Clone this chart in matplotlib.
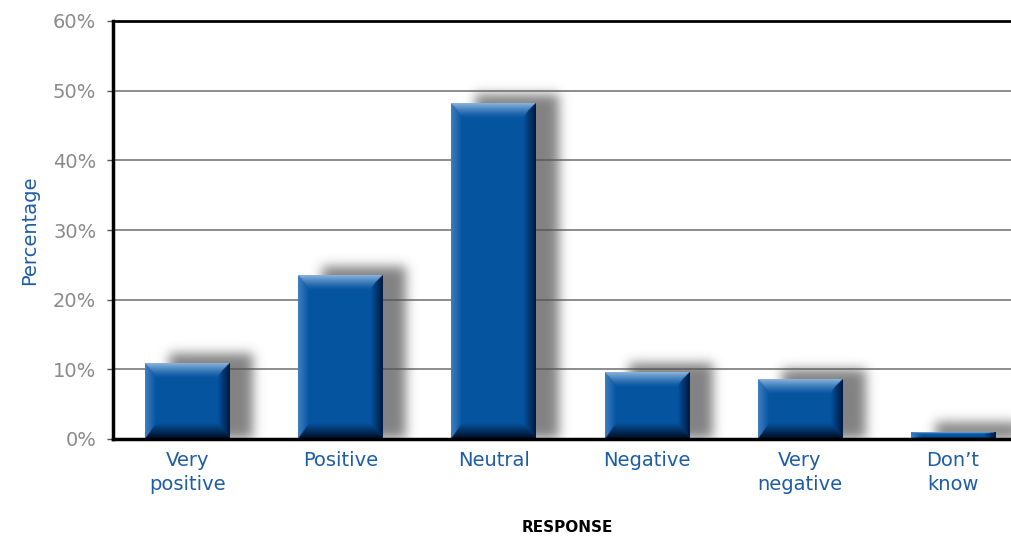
import math
import matplotlib
matplotlib.use('Agg')
import matplotlib.pyplot as plt
import numpy as np

categories = ["Very\npositive", "Positive", "Neutral", "Negative", "Very\nnegative", "Don\u2019t\nknow"]
values = [10.9, 23.4, 48.1, 9.5, 8.6, 1.0]
yticks = [0, 10, 20, 30, 40, 50, 60]
ytick_labels = ["0%", "10%", "20%", "30%", "40%", "50%", "60%"]

BLUE_TXT = "#1d5da6"
GREY_TXT = "#8a8a8a"
BAR_W = 0.55
XPX = 153.2          # pixels per category unit
YPX = 418.0 / 60.0   # pixels per percent

erf = np.frompyfunc(math.erf, 1, 1)


def box_profile(x, a, b, s):
    return 0.5 * (erf((x - a) / s).astype(float) - erf((x - b) / s).astype(float))


def shadow_image(val, dx=24, dy=10, sig=8.0):
    wpx = BAR_W * XPX
    hpx = val * YPX
    pad = 3 * sig
    xs = np.arange(-pad, wpx + dx + pad, 1.0)
    ys = np.arange(-pad, hpx + dy + pad, 1.0)
    px = box_profile(xs, dx, wpx + dx, sig)
    py = box_profile(ys, 0, hpx + dy, sig)   # ys measured from bottom
    a = np.outer(py[::-1], px) * 0.72
    img = np.zeros(a.shape + (4,))
    img[..., :3] = 0.32
    img[..., 3] = a
    ext = (xs[0] / XPX, xs[-1] / XPX, ys[0] / YPX, ys[-1] / YPX)
    return img, ext


def bar_image(val, scale=2):
    wpx = int(BAR_W * XPX * scale)
    hpx = max(int(val * YPX * scale), 2)
    u = (np.arange(wpx) + 0.5)[None, :] / scale
    v = (np.arange(hpx) + 0.5)[:, None] / scale
    W = wpx / scale
    H = hpx / scale
    base = np.array([0.02, 0.33, 0.63])
    light = np.array([0.55, 0.71, 0.87])
    left_c = np.array([0.25, 0.50, 0.76])
    dark_r = np.array([0.00, 0.10, 0.25])
    dark_b = np.array([0.00, 0.04, 0.12])
    t, b, l, r = min(15, H * 0.3), min(16, H * 0.35), 11, 12
    wt = np.clip(1 - v / t, 0, 1) ** 1.3 * np.ones_like(u)
    wb = np.clip(1 - (H - v) / b, 0, 1) * np.ones_like(u)
    wl = np.clip(1 - u / l, 0, 1) * np.ones_like(v)
    wr = np.clip(1 - (W - u) / r, 0, 1) ** 0.9 * np.ones_like(v)
    ws = np.stack([wt, wb, wl, wr])
    idx = np.argmax(ws, axis=0)
    w = np.max(ws, axis=0)[..., None]
    cols = np.stack([light, dark_b, left_c, dark_r])[idx]
    img = base * (1 - w) + cols * w
    return np.clip(img, 0, 1)


fig = plt.figure(figsize=(10.12, 5.36), dpi=100)
ax = fig.add_axes([113 / 1012, 97 / 536, 1 - 113 / 1012, 418 / 536])

for y in yticks[1:-1]:
    ax.axhline(y, color="#8c8c8c", lw=1.4, zorder=1)

for i, v in enumerate(values):
    img, ext = shadow_image(v)
    ax.imshow(img, extent=(i - BAR_W / 2 + ext[0], i - BAR_W / 2 + ext[1], ext[2], ext[3]),
              zorder=2, interpolation='bilinear')
for i, v in enumerate(values):
    ax.imshow(bar_image(v), extent=(i - BAR_W / 2, i + BAR_W / 2, 0, v),
              zorder=3, interpolation='bilinear')

ax.set_aspect('auto')
ax.set_xlim(-0.485, 5.385)
ax.set_ylim(0, 60)
ax.set_yticks(yticks)
ax.set_yticklabels(ytick_labels, fontsize=14, color=GREY_TXT)
ax.set_xticks(range(len(categories)))
ax.set_xticklabels(categories, fontsize=14, color=BLUE_TXT, linespacing=1.3)
ax.tick_params(axis='x', length=0, pad=9)
ax.tick_params(axis='y', length=4, width=1, color="#555555", pad=8)

ax.spines['right'].set_visible(False)
ax.spines['left'].set_linewidth(2.5)
ax.spines['bottom'].set_linewidth(2.5)
ax.spines['top'].set_linewidth(2)
for s in ax.spines.values():
    s.set_zorder(5)

ax.set_ylabel("Percentage", fontsize=14, color=BLUE_TXT, labelpad=10)
fig.text(567 / 1012, 1 - 527 / 536, "RESPONSE", fontsize=11, fontweight='bold',
         ha='center', va='center')

plt.savefig('out.png', dpi=100)
